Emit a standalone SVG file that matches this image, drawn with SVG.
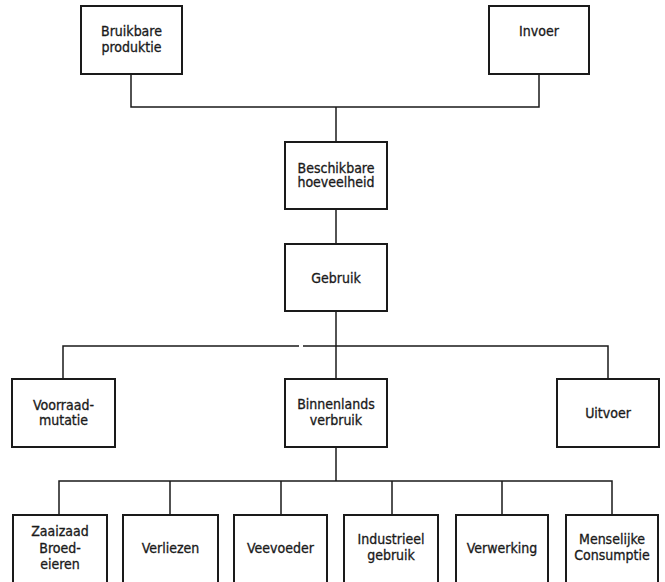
<svg xmlns="http://www.w3.org/2000/svg" width="665" height="582" viewBox="0 0 665 582">
<style>
.box{fill:#fff;stroke:#1a1a1a;stroke-width:2}
.con{fill:none;stroke:#1a1a1a;stroke-width:1.5}
text{font-family:"DejaVu Sans Condensed","Liberation Sans Narrow","Liberation Sans",sans-serif;font-size:14px;fill:#1a1a1a;stroke:#1a1a1a;stroke-width:0.3;text-anchor:middle}
</style>
<rect width="665" height="582" fill="#fff"/>
<g id="connectors" class="con">
<path d="M131,74V107H539V74"/>
<path d="M336,107V142"/>
<path d="M336,209V244"/>
<path d="M336,311V379"/>
<path d="M63,379V346H299M303,346H608V379"/>
<path d="M336,447V481"/>
<path d="M59,515V481H612V515"/>
<path d="M170,481V515M281,481V515M392,481V515M502,481V515"/>
</g>
<g id="bruikbare-produktie"><rect class="box" x="81" y="6" width="101" height="68"/><text x="131.5" y="36">Bruikbare</text><text x="131.5" y="52">produktie</text></g>
<g id="invoer"><rect class="box" x="489" y="6" width="100" height="68"/><text x="539" y="36">Invoer</text></g>
<g id="beschikbare-hoeveelheid"><rect class="box" x="285" y="142" width="102" height="67"/><text x="336" y="172.5">Beschikbare</text><text x="336" y="187">hoeveelheid</text></g>
<g id="gebruik"><rect class="box" x="285" y="244" width="102" height="67"/><text x="336" y="283">Gebruik</text></g>
<g id="voorraadmutatie"><rect class="box" x="12" y="379" width="103" height="68"/><text x="63.5" y="410">Voorraad-</text><text x="63.5" y="425">mutatie</text></g>
<g id="binnenlands-verbruik"><rect class="box" x="285" y="379" width="102" height="68"/><text x="336" y="409">Binnenlands</text><text x="336" y="424.5">verbruik</text></g>
<g id="uitvoer"><rect class="box" x="557" y="379" width="102" height="68"/><text x="608" y="417.5">Uitvoer</text></g>
<g id="zaaizaad"><rect class="box" x="13" y="515" width="94" height="80"/><text x="60" y="536">Zaaizaad</text><text x="60" y="552.5">Broed-</text><text x="60" y="569">eieren</text></g>
<g id="verliezen"><rect class="box" x="123" y="515" width="95" height="80"/><text x="170.5" y="553">Verliezen</text></g>
<g id="veevoeder"><rect class="box" x="234" y="515" width="93" height="80"/><text x="280.5" y="553">Veevoeder</text></g>
<g id="industrieel-gebruik"><rect class="box" x="344" y="515" width="94" height="80"/><text x="391" y="544">Industrieel</text><text x="391" y="559.5">gebruik</text></g>
<g id="verwerking"><rect class="box" x="456" y="515" width="92" height="80"/><text x="502" y="553">Verwerking</text></g>
<g id="menselijke-consumptie"><rect class="box" x="566" y="515" width="92" height="80"/><text x="612" y="543.5">Menselijke</text><text x="612" y="560">Consumptie</text></g>
</svg>
